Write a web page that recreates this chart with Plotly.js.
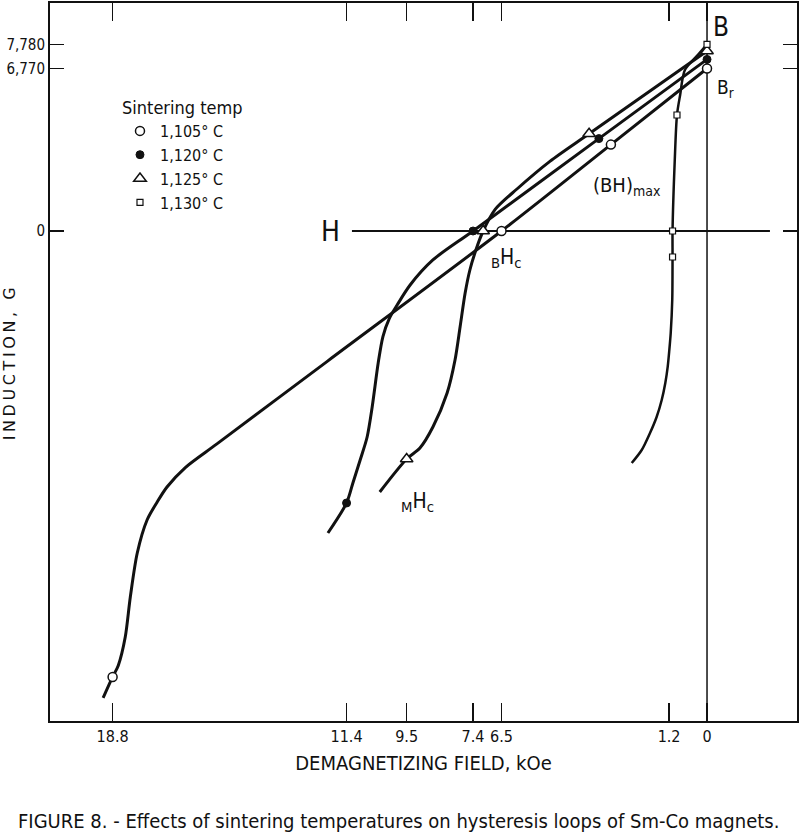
<!DOCTYPE html>
<html><head><meta charset="utf-8">
<script src="https://cdn.plot.ly/plotly-3.0.1.min.js"></script>
<style>html,body{margin:0;padding:0;background:#fff}#chart{width:800px;height:837px}</style>
</head><body><div id="chart"></div>
<script>
// Sintering temperatures (legend entries)
const seriesNames = ['1,105° C', '1,120° C', '1,125° C', '1,130° C'];

// Demagnetization curves: field H (kOe, demagnetizing) and induction B (G)
const curveH_1105 = [0, 3.04, 6.5, 12.0, 15.5, 16.5, 17.08, 17.39, 17.71, 18.02, 18.24, 18.40, 18.62, 18.8, 19.1];
const curveB_1105 = [6770, 3600, 0, -5420, -8870, -9855, -10667, -11292, -12042, -13417, -15250, -16917, -18100, -18583, -19458];

const curveH_1120 = [0, 3.42, 7.4, 8.67, 9.39, 9.80, 10.05, 10.25, 10.40, 10.59, 10.75, 10.97, 11.2, 11.4, 11.99];
const curveB_1120 = [7150, 3850, 0, -1208, -2250, -3083, -3650, -4400, -5500, -7333, -8583, -9542, -10500, -11333, -12583];

const curveH_1125 = [0, 3.73, 4.97, 6.01, 6.70, 7.08, 7.31, 7.50, 7.65, 7.81, 7.97, 8.22, 8.67, 9.08, 9.5, 10.35];
const curveB_1125 = [7500, 4050, 2900, 1750, 900, 0, -792, -1625, -2583, -4000, -5375, -6750, -8167, -9042, -9500, -10875];

const curveH_1130 = [0, 0.28, 0.70, 0.85, 0.95, 1.02, 1.09, 1.09, 1.10, 1.148, 1.192, 1.243, 1.319, 1.433, 1.591, 1.803, 2.065, 2.381];
const curveB_1130 = [7780, 7350, 6708, 5667, 4833, 2958, 0, -1083, -2875, -4250, -4958, -5654, -6333, -7042, -7738, -8417, -9125, -9667];

// Marked points (Br, (BH)max, BHc, MHc ...)
const markH_1105 = [0, 3.04, 6.5, 18.8];
const markB_1105 = [6770, 3600, 0, -18583];
const markH_1120 = [0, 3.42, 7.4, 11.4];
const markB_1120 = [7150, 3850, 0, -11333];
const markH_1125 = [0, 3.73, 7.08, 9.5];
const markB_1125 = [7500, 4050, 0, -9500];
const markH_1130 = [0, 0.95, 1.09, 1.09];
const markB_1130 = [7780, 4833, 0, -1083];

// Axis ticks
const xTickVals = [18.8, 11.4, 9.5, 7.4, 6.5, 1.2, 0];
const xTickText = ['18.8', '11.4', '9.5', '7.4', '6.5', '1.2', '0'];
const yTickVals = [7780, 6770, 0];
const yTickText = ['7,780', '6,770', '0'];

const NARROW = '"Liberation Sans Narrow", "DejaVu Sans Condensed", "Arial Narrow", "Roboto", sans-serif';
const BLACK = '#111';

const curves = [
  [curveH_1105, curveB_1105], [curveH_1120, curveB_1120],
  [curveH_1125, curveB_1125], [curveH_1130, curveB_1130]
];
const marks = [
  [markH_1105, markB_1105], [markH_1120, markB_1120],
  [markH_1125, markB_1125], [markH_1130, markB_1130]
];
const markerStyles = [
  {symbol: 'circle', size: 9, color: '#fff', line: {color: BLACK, width: 1.5}},
  {symbol: 'circle', size: 8, color: BLACK, line: {color: BLACK, width: 1}},
  {symbol: 'triangle-up', size: 11, color: '#fff', line: {color: BLACK, width: 1.5}},
  {symbol: 'square', size: 6, color: '#fff', line: {color: BLACK, width: 1.2}}
];

const traces = [];
curves.forEach((c, i) => {
  traces.push({
    x: c[0], y: c[1], type: 'scatter', mode: 'lines',
    line: {color: BLACK, width: i === 3 ? 2.5 : 3, shape: 'spline', smoothing: 0.8},
    showlegend: false, hoverinfo: 'skip'
  });
});
marks.forEach((m, i) => {
  traces.push({
    x: m[0], y: m[1], type: 'scatter', mode: 'markers', name: seriesNames[i],
    marker: markerStyles[i], showlegend: true
  });
});

const layout = {
  width: 800, height: 837,
  margin: {l: 50, r: 3, t: 3, b: 116},
  paper_bgcolor: '#fff', plot_bgcolor: '#fff',
  font: {family: NARROW, color: BLACK},
  showlegend: true,
  legend: {
    x: 0.0937, xanchor: 'left', y: 0.878, yanchor: 'top',
    bgcolor: 'rgba(0,0,0,0)', borderwidth: 0,
    font: {family: NARROW, size: 16, color: BLACK},
    title: {text: 'Sintering temp', font: {family: NARROW, size: 18, color: BLACK}},
    tracegroupgap: 0, itemwidth: 30
  },
  xaxis: {
    range: [20.78, -2.846], tickmode: 'array', tickvals: xTickVals, ticktext: xTickText,
    ticks: 'inside', ticklen: 18, tickwidth: 1.2, tickcolor: BLACK,
    showline: true, linewidth: 2, linecolor: BLACK, mirror: 'ticks',
    showgrid: false, zeroline: false,
    tickfont: {family: NARROW, size: 16, color: BLACK},
    title: {text: 'DEMAGNETIZING FIELD, kOe', font: {family: NARROW, size: 20, color: BLACK}, standoff: 11}
  },
  yaxis: {
    range: [-20417, 9500], tickmode: 'array', tickvals: yTickVals, ticktext: yTickText,
    ticks: 'inside', ticklen: 14, tickwidth: 1.2, tickcolor: BLACK,
    showline: true, linewidth: 2, linecolor: BLACK, mirror: 'ticks',
    showgrid: false, zeroline: false,
    tickfont: {family: NARROW, size: 15, color: BLACK},
    title: {text: 'INDUCTION, G', font: {family: '"DejaVu Sans", sans-serif', size: 16, color: BLACK}, standoff: 6}
  },
  shapes: [
    {type: 'line', xref: 'x', yref: 'paper', x0: 0, x1: 0, y0: 0, y1: 1, line: {color: BLACK, width: 1.5}, layer: 'below'},
    {type: 'line', xref: 'x', yref: 'y', x0: 11.23, x1: -1.99, y0: 0, y1: 0, line: {color: BLACK, width: 2}, layer: 'below'}
  ],
  annotations: [
    {text: 'H', x: 11.92, y: 0, xref: 'x', yref: 'y', showarrow: false, font: {family: NARROW, size: 28, color: BLACK}},
    {text: 'B', x: -0.44, y: 8500, xref: 'x', yref: 'y', showarrow: false, font: {family: NARROW, size: 26, color: BLACK}},
    {text: 'B<sub>r</sub>', x: -0.57, y: 5958, xref: 'x', yref: 'y', showarrow: false, font: {family: NARROW, size: 19, color: BLACK}},
    {text: '(BH)<sub>max</sub>', x: 2.53, y: 1875, xref: 'x', yref: 'y', showarrow: false, font: {family: NARROW, size: 20, color: BLACK}},
    {text: '<sub>B</sub>H<sub>c</sub>', x: 6.33, y: -1125, xref: 'x', yref: 'y', showarrow: false, font: {family: NARROW, size: 21, color: BLACK}},
    {text: '<sub>M</sub>H<sub>c</sub>', x: 9.17, y: -11292, xref: 'x', yref: 'y', showarrow: false, font: {family: NARROW, size: 21, color: BLACK}},
    {text: 'FIGURE 8. - Effects of sintering temperatures on hysteresis loops of Sm-Co magnets.',
     x: 0.466, y: -0.1395, xref: 'paper', yref: 'paper', xanchor: 'center', yanchor: 'middle', showarrow: false,
     font: {family: NARROW, size: 20, color: BLACK}}
  ]
};

Plotly.newPlot('chart', traces, layout, {staticPlot: true}).then(() => {
  const yt = document.querySelector('.ytitle');
  if (yt) yt.style.letterSpacing = '3.6px';
});
</script>
</body></html>
